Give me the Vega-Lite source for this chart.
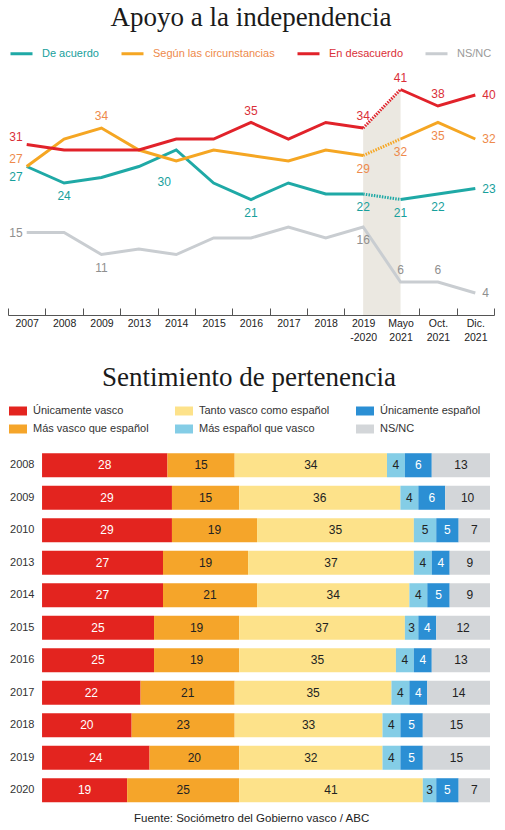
{
  "$schema": "https://vega.github.io/schema/vega-lite/v6.json",
  "background": "white",
  "padding": {"left": 7, "right": 12, "top": 4, "bottom": 2},
  "config": {
    "font": "Liberation Sans",
    "view": {"stroke": null},
    "title": {"font": "Liberation Serif", "fontSize": 27, "fontWeight": "normal", "color": "#1a1a1a"}
  },
  "resolve": {
    "scale": {"color": "independent", "stroke": "independent", "fill": "independent"},
    "legend": {"color": "independent", "stroke": "independent", "fill": "independent"}
  },
  "datasets": {
    "apoyo": [
      {"periodo": "2007", "serie": "De acuerdo", "valor": 27, "metodo": "anterior", "pos": "izqabajo"},
      {"periodo": "2008", "serie": "De acuerdo", "valor": 24, "metodo": "anterior", "pos": "abajo"},
      {"periodo": "2009", "serie": "De acuerdo", "valor": 25, "metodo": "anterior"},
      {"periodo": "2013", "serie": "De acuerdo", "valor": 27, "metodo": "anterior"},
      {"periodo": "2014", "serie": "De acuerdo", "valor": 30, "metodo": "anterior", "pos": "guia"},
      {"periodo": "2015", "serie": "De acuerdo", "valor": 24, "metodo": "anterior"},
      {"periodo": "2016", "serie": "De acuerdo", "valor": 21, "metodo": "anterior", "pos": "abajo"},
      {"periodo": "2017", "serie": "De acuerdo", "valor": 24, "metodo": "anterior"},
      {"periodo": "2018", "serie": "De acuerdo", "valor": 22, "metodo": "anterior"},
      {"periodo": "2019|-2020", "serie": "De acuerdo", "valor": 22, "metodo": "anterior", "pos": "abajo"},
      {"periodo": "Mayo|2021", "serie": "De acuerdo", "valor": 21, "metodo": "nuevo", "pos": "abajo"},
      {"periodo": "Oct.|2021", "serie": "De acuerdo", "valor": 22, "metodo": "nuevo", "pos": "abajo"},
      {"periodo": "Dic.|2021", "serie": "De acuerdo", "valor": 23, "metodo": "nuevo", "pos": "derecha"},

      {"periodo": "2007", "serie": "Según las circunstancias", "valor": 27, "metodo": "anterior", "pos": "izqarriba"},
      {"periodo": "2008", "serie": "Según las circunstancias", "valor": 32, "metodo": "anterior"},
      {"periodo": "2009", "serie": "Según las circunstancias", "valor": 34, "metodo": "anterior", "pos": "arriba"},
      {"periodo": "2013", "serie": "Según las circunstancias", "valor": 30, "metodo": "anterior"},
      {"periodo": "2014", "serie": "Según las circunstancias", "valor": 28, "metodo": "anterior"},
      {"periodo": "2015", "serie": "Según las circunstancias", "valor": 30, "metodo": "anterior"},
      {"periodo": "2016", "serie": "Según las circunstancias", "valor": 29, "metodo": "anterior"},
      {"periodo": "2017", "serie": "Según las circunstancias", "valor": 28, "metodo": "anterior"},
      {"periodo": "2018", "serie": "Según las circunstancias", "valor": 30, "metodo": "anterior"},
      {"periodo": "2019|-2020", "serie": "Según las circunstancias", "valor": 29, "metodo": "anterior", "pos": "abajo"},
      {"periodo": "Mayo|2021", "serie": "Según las circunstancias", "valor": 32, "metodo": "nuevo", "pos": "abajo"},
      {"periodo": "Oct.|2021", "serie": "Según las circunstancias", "valor": 35, "metodo": "nuevo", "pos": "abajo"},
      {"periodo": "Dic.|2021", "serie": "Según las circunstancias", "valor": 32, "metodo": "nuevo", "pos": "derecha"},

      {"periodo": "2007", "serie": "En desacuerdo", "valor": 31, "metodo": "anterior", "pos": "izqarriba"},
      {"periodo": "2008", "serie": "En desacuerdo", "valor": 30, "metodo": "anterior"},
      {"periodo": "2009", "serie": "En desacuerdo", "valor": 30, "metodo": "anterior"},
      {"periodo": "2013", "serie": "En desacuerdo", "valor": 30, "metodo": "anterior"},
      {"periodo": "2014", "serie": "En desacuerdo", "valor": 32, "metodo": "anterior"},
      {"periodo": "2015", "serie": "En desacuerdo", "valor": 32, "metodo": "anterior"},
      {"periodo": "2016", "serie": "En desacuerdo", "valor": 35, "metodo": "anterior", "pos": "arriba"},
      {"periodo": "2017", "serie": "En desacuerdo", "valor": 32, "metodo": "anterior"},
      {"periodo": "2018", "serie": "En desacuerdo", "valor": 35, "metodo": "anterior"},
      {"periodo": "2019|-2020", "serie": "En desacuerdo", "valor": 34, "metodo": "anterior", "pos": "arriba"},
      {"periodo": "Mayo|2021", "serie": "En desacuerdo", "valor": 41, "metodo": "nuevo", "pos": "arriba"},
      {"periodo": "Oct.|2021", "serie": "En desacuerdo", "valor": 38, "metodo": "nuevo", "pos": "arriba"},
      {"periodo": "Dic.|2021", "serie": "En desacuerdo", "valor": 40, "metodo": "nuevo", "pos": "derecha"},

      {"periodo": "2007", "serie": "NS/NC", "valor": 15, "metodo": "anterior", "pos": "izq"},
      {"periodo": "2008", "serie": "NS/NC", "valor": 15, "metodo": "anterior"},
      {"periodo": "2009", "serie": "NS/NC", "valor": 11, "metodo": "anterior", "pos": "abajo"},
      {"periodo": "2013", "serie": "NS/NC", "valor": 12, "metodo": "anterior"},
      {"periodo": "2014", "serie": "NS/NC", "valor": 11, "metodo": "anterior"},
      {"periodo": "2015", "serie": "NS/NC", "valor": 14, "metodo": "anterior"},
      {"periodo": "2016", "serie": "NS/NC", "valor": 14, "metodo": "anterior"},
      {"periodo": "2017", "serie": "NS/NC", "valor": 16, "metodo": "anterior"},
      {"periodo": "2018", "serie": "NS/NC", "valor": 14, "metodo": "anterior"},
      {"periodo": "2019|-2020", "serie": "NS/NC", "valor": 16, "metodo": "anterior", "pos": "abajo"},
      {"periodo": "Mayo|2021", "serie": "NS/NC", "valor": 6, "metodo": "nuevo", "pos": "arriba"},
      {"periodo": "Oct.|2021", "serie": "NS/NC", "valor": 6, "metodo": "nuevo", "pos": "arriba"},
      {"periodo": "Dic.|2021", "serie": "NS/NC", "valor": 4, "metodo": "nuevo", "pos": "derecha"}
    ],
    "categorias": [
      {"categoria": "Únicamente vasco", "orden": 1},
      {"categoria": "Más vasco que español", "orden": 2},
      {"categoria": "Tanto vasco como español", "orden": 3},
      {"categoria": "Más español que vasco", "orden": 4},
      {"categoria": "Únicamente español", "orden": 5},
      {"categoria": "NS/NC", "orden": 6}
    ],
    "pertenencia": [
      {"anio": "2008", "categoria": "Únicamente vasco", "porcentaje": 28},
      {"anio": "2008", "categoria": "Más vasco que español", "porcentaje": 15},
      {"anio": "2008", "categoria": "Tanto vasco como español", "porcentaje": 34},
      {"anio": "2008", "categoria": "Más español que vasco", "porcentaje": 4},
      {"anio": "2008", "categoria": "Únicamente español", "porcentaje": 6},
      {"anio": "2008", "categoria": "NS/NC", "porcentaje": 13},
      {"anio": "2009", "categoria": "Únicamente vasco", "porcentaje": 29},
      {"anio": "2009", "categoria": "Más vasco que español", "porcentaje": 15},
      {"anio": "2009", "categoria": "Tanto vasco como español", "porcentaje": 36},
      {"anio": "2009", "categoria": "Más español que vasco", "porcentaje": 4},
      {"anio": "2009", "categoria": "Únicamente español", "porcentaje": 6},
      {"anio": "2009", "categoria": "NS/NC", "porcentaje": 10},
      {"anio": "2010", "categoria": "Únicamente vasco", "porcentaje": 29},
      {"anio": "2010", "categoria": "Más vasco que español", "porcentaje": 19},
      {"anio": "2010", "categoria": "Tanto vasco como español", "porcentaje": 35},
      {"anio": "2010", "categoria": "Más español que vasco", "porcentaje": 5},
      {"anio": "2010", "categoria": "Únicamente español", "porcentaje": 5},
      {"anio": "2010", "categoria": "NS/NC", "porcentaje": 7},
      {"anio": "2013", "categoria": "Únicamente vasco", "porcentaje": 27},
      {"anio": "2013", "categoria": "Más vasco que español", "porcentaje": 19},
      {"anio": "2013", "categoria": "Tanto vasco como español", "porcentaje": 37},
      {"anio": "2013", "categoria": "Más español que vasco", "porcentaje": 4},
      {"anio": "2013", "categoria": "Únicamente español", "porcentaje": 4},
      {"anio": "2013", "categoria": "NS/NC", "porcentaje": 9},
      {"anio": "2014", "categoria": "Únicamente vasco", "porcentaje": 27},
      {"anio": "2014", "categoria": "Más vasco que español", "porcentaje": 21},
      {"anio": "2014", "categoria": "Tanto vasco como español", "porcentaje": 34},
      {"anio": "2014", "categoria": "Más español que vasco", "porcentaje": 4},
      {"anio": "2014", "categoria": "Únicamente español", "porcentaje": 5},
      {"anio": "2014", "categoria": "NS/NC", "porcentaje": 9},
      {"anio": "2015", "categoria": "Únicamente vasco", "porcentaje": 25},
      {"anio": "2015", "categoria": "Más vasco que español", "porcentaje": 19},
      {"anio": "2015", "categoria": "Tanto vasco como español", "porcentaje": 37},
      {"anio": "2015", "categoria": "Más español que vasco", "porcentaje": 3},
      {"anio": "2015", "categoria": "Únicamente español", "porcentaje": 4},
      {"anio": "2015", "categoria": "NS/NC", "porcentaje": 12},
      {"anio": "2016", "categoria": "Únicamente vasco", "porcentaje": 25},
      {"anio": "2016", "categoria": "Más vasco que español", "porcentaje": 19},
      {"anio": "2016", "categoria": "Tanto vasco como español", "porcentaje": 35},
      {"anio": "2016", "categoria": "Más español que vasco", "porcentaje": 4},
      {"anio": "2016", "categoria": "Únicamente español", "porcentaje": 4},
      {"anio": "2016", "categoria": "NS/NC", "porcentaje": 13},
      {"anio": "2017", "categoria": "Únicamente vasco", "porcentaje": 22},
      {"anio": "2017", "categoria": "Más vasco que español", "porcentaje": 21},
      {"anio": "2017", "categoria": "Tanto vasco como español", "porcentaje": 35},
      {"anio": "2017", "categoria": "Más español que vasco", "porcentaje": 4},
      {"anio": "2017", "categoria": "Únicamente español", "porcentaje": 4},
      {"anio": "2017", "categoria": "NS/NC", "porcentaje": 14},
      {"anio": "2018", "categoria": "Únicamente vasco", "porcentaje": 20},
      {"anio": "2018", "categoria": "Más vasco que español", "porcentaje": 23},
      {"anio": "2018", "categoria": "Tanto vasco como español", "porcentaje": 33},
      {"anio": "2018", "categoria": "Más español que vasco", "porcentaje": 4},
      {"anio": "2018", "categoria": "Únicamente español", "porcentaje": 5},
      {"anio": "2018", "categoria": "NS/NC", "porcentaje": 15},
      {"anio": "2019", "categoria": "Únicamente vasco", "porcentaje": 24},
      {"anio": "2019", "categoria": "Más vasco que español", "porcentaje": 20},
      {"anio": "2019", "categoria": "Tanto vasco como español", "porcentaje": 32},
      {"anio": "2019", "categoria": "Más español que vasco", "porcentaje": 4},
      {"anio": "2019", "categoria": "Únicamente español", "porcentaje": 5},
      {"anio": "2019", "categoria": "NS/NC", "porcentaje": 15},
      {"anio": "2020", "categoria": "Únicamente vasco", "porcentaje": 19},
      {"anio": "2020", "categoria": "Más vasco que español", "porcentaje": 25},
      {"anio": "2020", "categoria": "Tanto vasco como español", "porcentaje": 41},
      {"anio": "2020", "categoria": "Más español que vasco", "porcentaje": 3},
      {"anio": "2020", "categoria": "Únicamente español", "porcentaje": 5},
      {"anio": "2020", "categoria": "NS/NC", "porcentaje": 7}
    ]
  },
  "title": {
    "text": "Fuente: Sociómetro del Gobierno vasco / ABC",
    "orient": "bottom",
    "anchor": "middle",
    "font": "Liberation Sans",
    "fontSize": 11.5,
    "fontWeight": "normal",
    "color": "#222222",
    "offset": 6
  },
  "spacing": 21,
  "vconcat": [
    {
      "width": 486,
      "height": 242,
      "title": {"text": "Apoyo a la independencia", "offset": 9},
      "data": {"name": "apoyo"},
      "encoding": {
        "x": {
          "field": "periodo",
          "type": "nominal",
          "bandPosition": 0.5,
          "sort": ["2007", "2008", "2009", "2013", "2014", "2015", "2016", "2017", "2018", "2019|-2020", "Mayo|2021", "Oct.|2021", "Dic.|2021"],
          "scale": {"type": "band", "paddingInner": 0, "paddingOuter": 0},
          "axis": {
            "title": null,
            "labelExpr": "isString(datum.value) && datum.value !== 'undefined' ? split(datum.value, '|') : ''",
            "labelAngle": 0,
            "labelFontSize": 10.5,
            "labelColor": "#222222",
            "labelLineHeight": 14,
            "labelBaseline": "top",
            "tickBand": "extent",
            "tickSize": -7,
            "tickColor": "#555555",
            "domainColor": "#555555",
            "labelPadding": 10,
            "grid": false
          }
        },
        "y": {
          "field": "valor",
          "type": "quantitative",
          "scale": {"domain": [0, 44], "nice": false, "zero": false},
          "axis": null
        }
      },
      "layer": [
        {
          "transform": [{"filter": "datum.serie === 'En desacuerdo' && (datum.periodo === '2019|-2020' || datum.periodo === 'Mayo|2021')"}],
          "mark": {"type": "area", "color": "#ebe8e1"},
          "encoding": {"y2": {"datum": 0}}
        },
        {
          "transform": [{"filter": "datum.serie !== 'NS/NC'"}],
          "mark": {"type": "line", "strokeWidth": 3},
          "encoding": {
            "stroke": {
              "field": "serie",
              "type": "nominal",
              "scale": {
                "domain": ["De acuerdo", "Según las circunstancias", "En desacuerdo", "NS/NC"],
                "range": ["#1fa9a6", "#f5a623", "#e1222a", "#c9cdd1"]
              },
              "legend": {
                "orient": "none",
                "legendX": 1,
                "legendY": -32,
                "direction": "horizontal",
                "title": null,
                "symbolType": "stroke",
                "symbolSize": 484,
                "symbolStrokeWidth": 3,
                "symbolDash": [1, 0],
                "labelFontSize": 11,
                "labelOffset": 8,
                "columnPadding": 16,
                "labelColor": {"expr": "datum.value === 'De acuerdo' ? '#17a09c' : datum.value === 'Según las circunstancias' ? '#ee8a4b' : datum.value === 'En desacuerdo' ? '#da2f38' : '#9a9a9a'"}
              }
            },
            "detail": {"field": "metodo"}
          }
        },
        {
          "transform": [{"filter": "datum.serie === 'NS/NC'"}],
          "mark": {"type": "line", "strokeWidth": 3},
          "encoding": {"stroke": {"field": "serie", "type": "nominal"}}
        },
        {
          "transform": [{"filter": "datum.serie !== 'NS/NC' && (datum.periodo === '2019|-2020' || datum.periodo === 'Mayo|2021')"}],
          "mark": {"type": "line", "strokeWidth": 3, "strokeDash": [1.5, 1.2]},
          "encoding": {"stroke": {"field": "serie", "type": "nominal"}}
        },
        {
          "transform": [{"filter": "datum.pos === 'arriba'"}],
          "mark": {"type": "text", "fontSize": 12, "align": "center", "baseline": "middle", "dy": -12},
          "encoding": {
            "text": {"field": "valor"},
            "fill": {"field": "serie", "type": "nominal", "legend": null,
              "scale": {"domain": ["De acuerdo", "Según las circunstancias", "En desacuerdo", "NS/NC"], "range": ["#17a09c", "#ee8a4b", "#da2f38", "#8f8f8f"]}}
          }
        },
        {
          "transform": [{"filter": "datum.pos === 'abajo'"}],
          "mark": {"type": "text", "fontSize": 12, "align": "center", "baseline": "middle", "dy": 13},
          "encoding": {"text": {"field": "valor"}, "fill": {"field": "serie", "type": "nominal", "legend": null}}
        },
        {
          "transform": [{"filter": "datum.pos === 'derecha'"}],
          "mark": {"type": "text", "fontSize": 12, "align": "left", "baseline": "middle", "dx": 7},
          "encoding": {"text": {"field": "valor"}, "fill": {"field": "serie", "type": "nominal", "legend": null}}
        },
        {
          "transform": [{"filter": "datum.pos === 'izq'"}],
          "mark": {"type": "text", "fontSize": 12, "align": "right", "baseline": "middle", "dx": -4},
          "encoding": {"text": {"field": "valor"}, "fill": {"field": "serie", "type": "nominal", "legend": null}}
        },
        {
          "transform": [{"filter": "datum.pos === 'izqarriba'"}],
          "mark": {"type": "text", "fontSize": 12, "align": "right", "baseline": "middle", "dx": -4, "dy": -8},
          "encoding": {"text": {"field": "valor"}, "fill": {"field": "serie", "type": "nominal", "legend": null}}
        },
        {
          "transform": [{"filter": "datum.pos === 'izqabajo'"}],
          "mark": {"type": "text", "fontSize": 12, "align": "right", "baseline": "middle", "dx": -4, "dy": 10},
          "encoding": {"text": {"field": "valor"}, "fill": {"field": "serie", "type": "nominal", "legend": null}}
        },
        {
          "transform": [{"filter": "datum.pos === 'guia'"}],
          "mark": {"type": "text", "fontSize": 12, "align": "center", "baseline": "middle", "dx": -12, "dy": 32},
          "encoding": {"text": {"field": "valor"}, "fill": {"field": "serie", "type": "nominal", "legend": null}}
        },
        {
          "data": {"values": [{"nota": "Cambio de metodología"}]},
          "mark": {"type": "text", "fontSize": 11, "align": "center", "baseline": "middle", "color": "#222222"},
          "encoding": {
            "x": {"datum": "2016", "bandPosition": 0.5},
            "y": {"datum": 6},
            "text": {"field": "nota"}
          }
        },
        {
          "data": {"values": [{"nota": "flecha"}]},
          "mark": {"type": "rule", "color": "#333333", "strokeWidth": 0.8, "xOffset": -8, "x2Offset": 6},
          "encoding": {
            "x": {"datum": "2018", "bandPosition": 0.5},
            "x2": {"datum": "2019|-2020", "bandPosition": 0.5},
            "y": {"datum": 6}
          }
        },
        {
          "data": {"values": [{"nota": "punta"}]},
          "mark": {"type": "point", "shape": "M-1,-1L1,0L-1,1", "filled": false, "size": 30, "stroke": "#333333", "strokeWidth": 0.8, "xOffset": 4},
          "encoding": {
            "x": {"datum": "2019|-2020", "bandPosition": 0.5},
            "y": {"datum": 6}
          }
        },
        {
          "data": {"values": [{"nota": "guia"}]},
          "mark": {"type": "rule", "color": "#999999", "strokeWidth": 0.8, "xOffset": -8, "x2Offset": -1},
          "encoding": {
            "x": {"datum": "2014", "bandPosition": 0.5},
            "x2": {"datum": "2014", "bandPosition": 0.5},
            "y": {"datum": 25.4},
            "y2": {"datum": 29.4}
          }
        }
      ]
    },
    {
      "width": 482,
      "height": 357.5,
      "title": {"text": "Sentimiento de pertenencia", "offset": 10},
      "data": {"name": "pertenencia"},
      "transform": [
        {"lookup": "categoria", "from": {"data": {"name": "categorias"}, "key": "categoria", "fields": ["orden"]}}
      ],
      "encoding": {
        "y": {
          "field": "anio",
          "type": "nominal",
          "scale": {"paddingInner": 0.26, "paddingOuter": 0.13},
          "axis": {"title": null, "ticks": false, "domain": false, "labelFontSize": 11, "labelColor": "#333333", "labelPadding": 8, "offset": -34}
        },
        "x": {
          "field": "porcentaje",
          "type": "quantitative",
          "stack": "zero",
          "scale": {"domain": [-7.6, 100], "nice": false, "zero": false},
          "axis": null
        },
        "order": {"field": "orden", "type": "quantitative"}
      },
      "layer": [
        {
          "mark": {"type": "bar"},
          "encoding": {
            "color": {
              "field": "categoria",
              "type": "nominal",
              "scale": {
                "domain": ["Únicamente vasco", "Tanto vasco como español", "Únicamente español", "Más vasco que español", "Más español que vasco", "NS/NC"],
                "range": ["#e3241f", "#fde28a", "#2b8fd4", "#f5a52a", "#84cde6", "#d3d6d9"]
              },
              "legend": {
                "orient": "none",
                "legendX": 1,
                "legendY": -47,
                "direction": "horizontal",
                "title": null,
                "columns": 3,
                "symbolType": "M-1,-0.5H1V0.5H-1Z",
                "symbolSize": 324,
                "symbolStrokeWidth": 0,
                "labelFontSize": 11,
                "labelColor": "#333333",
                "labelOffset": 6,
                "columnPadding": 26,
                "rowPadding": 4
              }
            }
          }
        },
        {
          "mark": {"type": "text", "fontSize": 12, "align": "center", "baseline": "middle"},
          "encoding": {
            "x": {"field": "porcentaje", "type": "quantitative", "stack": "zero", "bandPosition": 0.5},
            "text": {"field": "porcentaje"},
            "color": {
              "condition": {"test": "datum.categoria === 'Únicamente vasco' || datum.categoria === 'Únicamente español'", "value": "#ffffff"},
              "value": "#222222"
            }
          }
        }
      ]
    }
  ]
}
